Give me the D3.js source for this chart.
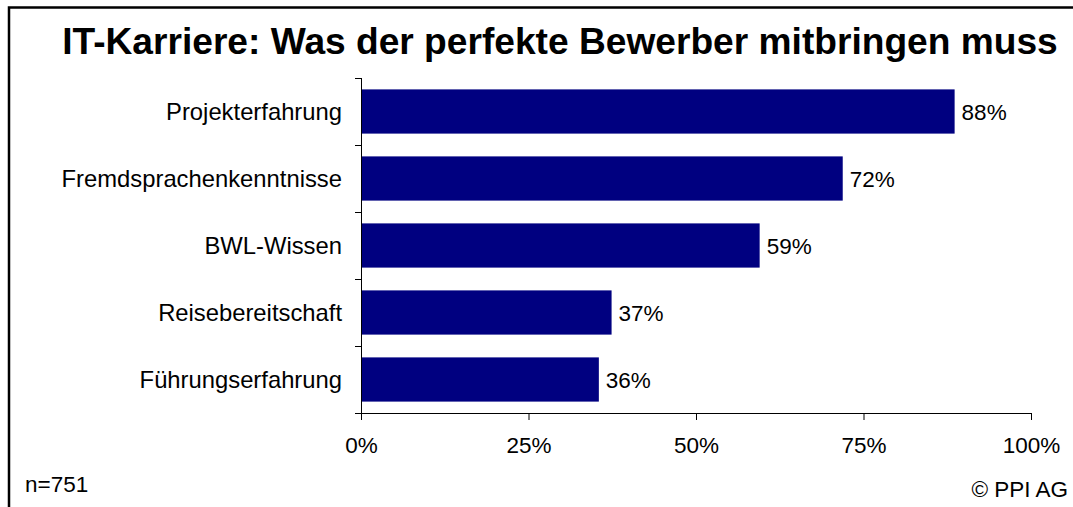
<!DOCTYPE html>
<html>
<head>
<meta charset="utf-8">
<script src="https://cdn.jsdelivr.net/npm/d3@7"></script>
<style>
  body { margin: 0; background: #fff; }
  svg { display: block; }
</style>
</head>
<body>
<script>
const title = "IT-Karriere: Was der perfekte Bewerber mitbringen muss";
const categories = [
  "Projekterfahrung",
  "Fremdsprachenkenntnisse",
  "BWL-Wissen",
  "Reisebereitschaft",
  "Führungserfahrung"
];
// bar lengths (percent)
const values = [88.6, 71.9, 59.5, 37.4, 35.5];
// labels printed at the bar ends
const valueLabels = ["88%", "72%", "59%", "37%", "36%"];
const xTicks = [0, 25, 50, 75, 100];
const sampleNote = "n=751";
const sourceNote = "© PPI AG";

const W = 1073, H = 507;
const margin = { top: 78, right: 42, bottom: 94, left: 361 };
const width = W - margin.left - margin.right;
const height = H - margin.top - margin.bottom;
const font = "Liberation Sans, Arial, sans-serif";

const svg = d3.select("body").append("svg")
  .attr("width", W)
  .attr("height", H);

// chart frame (runs past the right and bottom edges of the picture)
svg.append("rect")
  .attr("x", 9)
  .attr("y", 7.5)
  .attr("width", W + 20)
  .attr("height", H + 20)
  .attr("fill", "none")
  .attr("stroke", "#000")
  .attr("stroke-width", 2.5);

// title, fitted to its width in the picture
const titleText = svg.append("text")
  .attr("x", 560)
  .attr("y", 54)
  .attr("text-anchor", "middle")
  .attr("font-family", font)
  .attr("font-weight", "bold")
  .attr("font-size", "35px")
  .attr("fill", "#000")
  .text(title);
const tw = titleText.node().getComputedTextLength();
titleText.attr("font-size", (35 * 996 / tw) + "px");

const xScale = d3.scaleLinear().domain([0, 100]).range([0, width]);
const yScale = d3.scaleBand().domain(categories).range([0, height]).paddingInner(0.34).paddingOuter(0.17);
const yBand = d3.scaleBand().domain(categories).range([0, height]);

const g = svg.append("g")
  .attr("transform", "translate(" + margin.left + "," + margin.top + ")");

g.selectAll(".bar")
  .data(categories)
  .enter()
  .append("rect")
  .attr("class", "bar")
  .attr("x", 0)
  .attr("y", (d) => yScale(d))
  .attr("width", (d, i) => xScale(values[i]))
  .attr("height", yScale.bandwidth())
  .attr("fill", "#000080");

g.selectAll(".value")
  .data(categories)
  .enter()
  .append("text")
  .attr("class", "value")
  .attr("x", (d, i) => xScale(values[i]) + 7)
  .attr("y", (d) => yScale(d) + yScale.bandwidth() / 2)
  .attr("dy", "0.36em")
  .attr("font-family", font)
  .attr("font-size", "22.5px")
  .attr("fill", "#000")
  .text((d, i) => valueLabels[i]);

// y axis: line plus ticks at the category boundaries
g.append("line")
  .attr("x1", 0.5).attr("x2", 0.5)
  .attr("y1", 0).attr("y2", height)
  .attr("stroke", "#000");
const bounds = categories.map((d) => yBand(d)).concat([height]);
g.selectAll(".ytick")
  .data(bounds)
  .enter()
  .append("line")
  .attr("class", "ytick")
  .attr("x1", -6).attr("x2", 0.5)
  .attr("y1", (d) => Math.round(d) + 0.5)
  .attr("y2", (d) => Math.round(d) + 0.5)
  .attr("stroke", "#000");

g.selectAll(".cat")
  .data(categories)
  .enter()
  .append("text")
  .attr("class", "cat")
  .attr("x", -19)
  .attr("y", (d) => yBand(d) + yBand.bandwidth() / 2)
  .attr("dy", "0.36em")
  .attr("text-anchor", "end")
  .attr("font-family", font)
  .attr("font-size", "23.8px")
  .attr("fill", "#000")
  .text((d) => d);

// x axis
const xAxis = d3.axisBottom(xScale)
  .tickValues(xTicks)
  .tickSize(7)
  .tickSizeOuter(0)
  .tickPadding(17)
  .tickFormat((d) => d + "%");
const xg = g.append("g")
  .attr("transform", "translate(0," + height + ")")
  .call(xAxis);
xg.select(".domain").attr("stroke", "#000");
xg.selectAll(".tick line").attr("stroke", "#000");
xg.selectAll(".tick text")
  .attr("font-family", font)
  .attr("font-size", "22.5px")
  .attr("fill", "#000");

svg.append("text")
  .attr("x", 25)
  .attr("y", 492)
  .attr("font-family", font)
  .attr("font-size", "22.5px")
  .attr("fill", "#000")
  .text(sampleNote);

svg.append("text")
  .attr("x", 1068)
  .attr("y", 497)
  .attr("text-anchor", "end")
  .attr("font-family", font)
  .attr("font-size", "22.5px")
  .attr("fill", "#000")
  .text(sourceNote);
</script>
</body>
</html>
